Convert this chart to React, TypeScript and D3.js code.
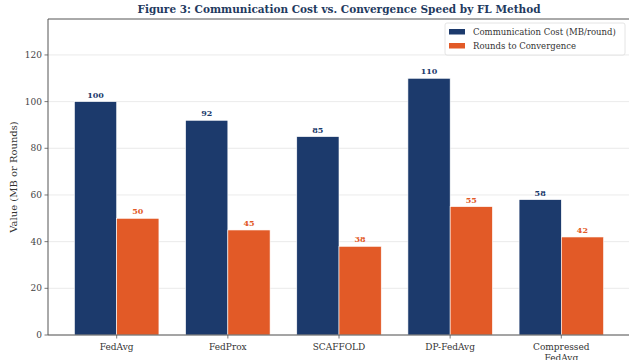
import React from "react";
import * as d3 from "d3";

const methods = ["FedAvg", "FedProx", "SCAFFOLD", "DP-FedAvg", "Compressed\nFedAvg"];
const commCost = [100, 92, 85, 110, 58];
const rounds = [50, 45, 38, 55, 42];
const yTicks = [0, 20, 40, 60, 80, 100, 120];
const seriesNames = ["Communication Cost (MB/round)", "Rounds to Convergence"];

const W = 629, H = 360;
const M = { left: 48, top: 19, bottom: 335 };
const NAVY = "#1c3a6c";
const ORANGE = "#e25a27";
const FONT = "'DejaVu Serif', 'Liberation Serif', serif";

export default function App() {
  const barW = 0.38;
  const x = d3.scaleLinear().domain([-0.618, 4.618]).range([M.left, 630]);
  const y = d3.scaleLinear().domain([0, 135.4]).range([M.bottom, M.top]);
  const series = [
    { vals: commCost, color: NAVY, off: -barW },
    { vals: rounds, color: ORANGE, off: 0 },
  ];
  return (
    <svg width={W} height={H} style={{ position: "absolute", left: 0, top: 0, background: "#fff" }} fontFamily={FONT}>
      <rect x={0} y={0} width={W} height={H} fill="#fff" />
      {yTicks.map((t) => (
        <g key={t}>
          <line x1={M.left} x2={630} y1={y(t)} y2={y(t)} stroke="#e4e4e4" strokeWidth={0.8} />
          <line x1={M.left - 3.5} x2={M.left} y1={y(t)} y2={y(t)} stroke="#555" strokeWidth={0.8} />
          <text x={M.left - 6} y={y(t)} dy="0.35em" textAnchor="end" fontSize={9} fill="#444">{t}</text>
        </g>
      ))}
      {series.map((s, si) =>
        s.vals.map((v, i) => (
          <g key={si + "-" + i}>
            <rect
              x={x(i + s.off)}
              y={y(v)}
              width={x(barW) - x(0)}
              height={y(0) - y(v)}
              fill={s.color}
              stroke="#fff"
              strokeWidth={0.6}
            />
            <text
              x={x(i + s.off + barW / 2)}
              y={y(v) - 4}
              textAnchor="middle"
              fontSize={8}
              fontWeight="bold"
              fill={s.color}
            >
              {v}
            </text>
          </g>
        ))
      )}
      {methods.map((m, i) => (
        <g key={m}>
          <line x1={x(i)} x2={x(i)} y1={M.bottom} y2={M.bottom + 3.5} stroke="#555" strokeWidth={0.8} />
          {m.split("\n").map((line, li) => (
            <text key={li} x={x(i)} y={M.bottom + 15 + li * 10.5} textAnchor="middle" fontSize={9} fill="#333">
              {line}
            </text>
          ))}
        </g>
      ))}
      <line x1={M.left} x2={M.left} y1={M.top} y2={M.bottom} stroke="#555" strokeWidth={1} />
      <line x1={M.left} x2={630} y1={M.bottom} y2={M.bottom} stroke="#555" strokeWidth={1} />
      <line x1={M.left} x2={630} y1={M.top} y2={M.top} stroke="#555" strokeWidth={1} />
      <text
        transform={`translate(17,${(M.top + M.bottom) / 2}) rotate(-90)`}
        textAnchor="middle"
        fontSize={10}
        fill="#333"
      >
        Value (MB or Rounds)
      </text>
      <text x={339} y={13} textAnchor="middle" fontSize={10.5} fontWeight="bold" fill="#1f3a60">
        Figure 3: Communication Cost vs. Convergence Speed by FL Method
      </text>
      <g>
        <rect x={445} y={23} width={180} height={32} fill="#fff" fillOpacity={0.9} stroke="#ddd" strokeWidth={0.8} rx={2} />
        {seriesNames.map((n, i) => (
          <g key={n}>
            <rect x={449} y={29 + i * 14} width={16} height={5.5} fill={i === 0 ? NAVY : ORANGE} />
            <text x={473} y={32 + i * 14} dy="0.35em" fontSize={8.5} fill="#333">{n}</text>
          </g>
        ))}
      </g>
    </svg>
  );
}
